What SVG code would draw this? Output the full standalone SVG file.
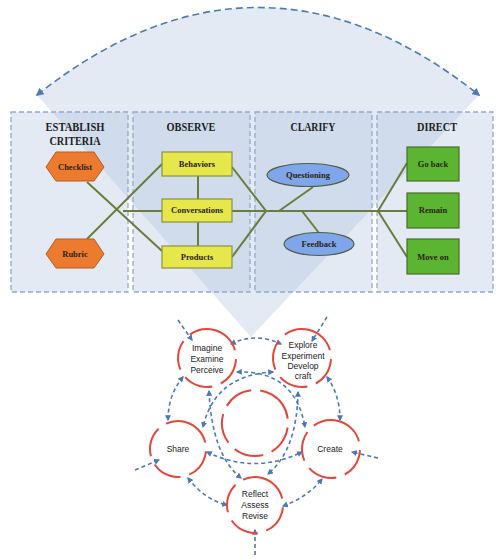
<svg xmlns="http://www.w3.org/2000/svg" width="500" height="559" viewBox="0 0 500 559">
<style>
.panel{fill:#a8bedd;fill-opacity:0.32;stroke:#93abcb;stroke-width:1.3;stroke-dasharray:5 3}
.title{font-family:"Liberation Serif",serif;font-weight:bold;font-size:12px;fill:#1e1e1e;text-anchor:middle}
.lbl{font-family:"Liberation Serif",serif;font-weight:bold;font-size:8.5px;fill:#2b2410;text-anchor:middle}
.hex{fill:#ec7b2f;stroke:#b65c20;stroke-width:1}
.yel{fill:#e6e74b;stroke:#8c9140;stroke-width:1.2}
.ell{fill:#7fa6ea;stroke:#4f6040;stroke-width:1.2}
.grn{fill:#5cb530;stroke:#4d6b2c;stroke-width:1.2}
.gl{stroke:#6a7d3c;stroke-width:2;fill:none}
.red{fill:none;stroke:#e6463a;stroke-width:2;stroke-dasharray:30 9}
.blue{fill:none;stroke:#4a78bd;stroke-width:1.6;stroke-dasharray:4 3}
.big{fill:none;stroke:#4f7ab8;stroke-width:1.6;stroke-dasharray:7 4}
.ct{font-family:"Liberation Sans","Noto Sans",sans-serif;font-size:8.5px;fill:#222;text-anchor:middle}
</style>
<defs>
<marker id="ah" viewBox="0 0 10 10" refX="8" refY="5" markerWidth="6" markerHeight="6" markerUnits="userSpaceOnUse" orient="auto-start-reverse">
<path d="M0,0 L10,5 L0,10 Z" fill="#4a78bd"/>
</marker>
<marker id="ahb" viewBox="0 0 10 10" refX="8" refY="5" markerWidth="8" markerHeight="8" markerUnits="userSpaceOnUse" orient="auto-start-reverse">
<path d="M0,0 L10,5 L0,10 Z" fill="#4f7ab8"/>
</marker>
</defs>
<rect width="500" height="559" fill="#ffffff"/>
<path d="M37,95 Q258,-80 479,95 L251,337 Z" fill="#a8bedd" fill-opacity="0.32"/>
<g id="panels">
<rect class="panel" x="11" y="112" width="117" height="180"/>
<rect class="panel" x="133" y="112" width="117" height="180"/>
<rect class="panel" x="255" y="112" width="117" height="180"/>
<rect class="panel" x="377" y="112" width="116" height="180"/>
<text class="title" x="75" y="131" textLength="59" lengthAdjust="spacingAndGlyphs">ESTABLISH</text>
<text class="title" x="75" y="145" textLength="51" lengthAdjust="spacingAndGlyphs">CRITERIA</text>
<text class="title" x="191" y="131" textLength="49" lengthAdjust="spacingAndGlyphs">OBSERVE</text>
<text class="title" x="313" y="131" textLength="45" lengthAdjust="spacingAndGlyphs">CLARIFY</text>
<text class="title" x="437" y="131" textLength="40" lengthAdjust="spacingAndGlyphs">DIRECT</text>
</g>
<g id="connectors">
<path class="gl" d="M87,182 L162,251"/>
<path class="gl" d="M87,239 L162,164"/>
<path class="gl" d="M123,211 L162,211"/>
<path class="gl" d="M198,176 L198,199 M198,222 L198,246"/>
<path class="gl" d="M232,167 L266,211 L232,257"/>
<path class="gl" d="M232,211 L407,211"/>
<path class="gl" d="M279,211 L313,187"/>
<path class="gl" d="M302,211 L319,233"/>
<path class="gl" d="M407,163 L378,211 L407,257"/>
</g>
<g id="checklist"><polygon class="hex" points="46,167 56,152 94,152 104,167 94,181 56,181"/><text class="lbl" x="75" y="170">Checklist</text></g>
<g id="rubric"><polygon class="hex" points="46,254 56,239 94,239 104,254 94,268 56,268"/><text class="lbl" x="75" y="257">Rubric</text></g>
<g id="behaviors"><rect class="yel" x="162" y="152" width="70" height="24"/><text class="lbl" x="197" y="167">Behaviors</text></g>
<g id="conversations"><rect class="yel" x="162" y="199" width="70" height="23"/><text class="lbl" x="197" y="213">Conversations</text></g>
<g id="products"><rect class="yel" x="162" y="246" width="70" height="22"/><text class="lbl" x="197" y="260">Products</text></g>
<g id="questioning"><ellipse class="ell" cx="308" cy="175" rx="41" ry="11.5"/><text class="lbl" x="308" y="178">Questioning</text></g>
<g id="feedback"><ellipse class="ell" cx="319" cy="244" rx="35" ry="11.5"/><text class="lbl" x="319" y="247">Feedback</text></g>
<g id="goback"><rect class="grn" x="407" y="147" width="52" height="34"/><text class="lbl" x="433" y="167">Go back</text></g>
<g id="remain"><rect class="grn" x="407" y="193" width="52" height="35"/><text class="lbl" x="433" y="213">Remain</text></g>
<g id="moveon"><rect class="grn" x="407" y="239" width="52" height="35"/><text class="lbl" x="433" y="260">Move on</text></g>
<g id="top-arc"><path class="big" d="M37,95 Q258,-80 479,95" marker-start="url(#ahb)" marker-end="url(#ahb)"/></g>
<g id="cycle-connectors">
<path class="blue" d="M231,344 Q256,332 281,344" marker-start="url(#ah)" marker-end="url(#ah)"/>
<path class="blue" d="M183,377 Q168,395 168,420" marker-start="url(#ah)" marker-end="url(#ah)"/>
<path class="blue" d="M327,377 Q340,395 340,420" marker-start="url(#ah)" marker-end="url(#ah)"/>
<path class="blue" d="M188,478 Q205,500 227,505" marker-start="url(#ah)" marker-end="url(#ah)"/>
<path class="blue" d="M283,506 Q308,497 322,479" marker-start="url(#ah)" marker-end="url(#ah)"/>
<path class="blue" d="M237,372 Q295,370 305,427" marker-start="url(#ah)" marker-end="url(#ah)"/>
<path class="blue" d="M273,372 Q215,375 203,427" marker-start="url(#ah)" marker-end="url(#ah)"/>
<path class="blue" d="M209,391 Q212,455 241,478" marker-start="url(#ah)" marker-end="url(#ah)"/>
<path class="blue" d="M298,392 Q297,450 268,474" marker-start="url(#ah)" marker-end="url(#ah)"/>
<path class="blue" d="M207,452 Q255,475 302,452" marker-start="url(#ah)" marker-end="url(#ah)"/>
<path class="blue" d="M178,320 L192,340" marker-end="url(#ah)"/>
<path class="blue" d="M327,317 L312,341" marker-end="url(#ah)"/>
<path class="blue" d="M135,470 L159,460" marker-end="url(#ah)"/>
<path class="blue" d="M378,458 L352,452" marker-end="url(#ah)"/>
<path class="blue" d="M255,555 L255,530" marker-end="url(#ah)"/>
</g>
<g id="center"><circle class="red" cx="255" cy="423" r="33" transform="rotate(-60 255 423)"/></g>
<g id="imagine"><circle class="red" cx="207" cy="358" r="29" transform="rotate(-75 207 358)"/><text class="ct" x="207" y="351">Imagine</text><text class="ct" x="207" y="362">Examine</text><text class="ct" x="207" y="373">Perceive</text></g>
<g id="explore"><circle class="red" cx="302" cy="358" r="29" transform="rotate(-75 302 358)"/><text class="ct" x="303" y="348">Explore</text><text class="ct" x="303" y="359">Experiment</text><text class="ct" x="303" y="369">Develop</text><text class="ct" x="303" y="379">craft</text></g>
<g id="share"><circle class="red" cx="178" cy="449" r="28" transform="rotate(-75 178 449)"/><text class="ct" x="178" y="452">Share</text></g>
<g id="create"><circle class="red" cx="331" cy="449" r="29" transform="rotate(-75 331 449)"/><text class="ct" x="330" y="452">Create</text></g>
<g id="reflect"><circle class="red" cx="255" cy="505" r="28" transform="rotate(-75 255 505)"/><text class="ct" x="255" y="497">Reflect</text><text class="ct" x="255" y="508">Assess</text><text class="ct" x="255" y="519">Revise</text></g>
</svg>
